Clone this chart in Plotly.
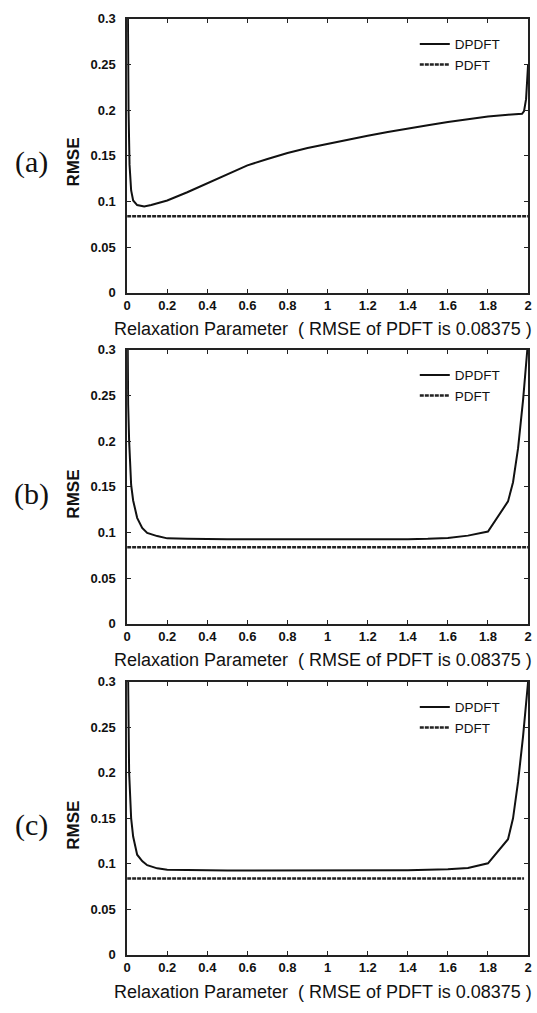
import plotly.graph_objects as go

W, H = 537, 1013

# ---- data ----
pdft_rmse = 0.08375

x_a = [0, 0.004, 0.007, 0.012, 0.02, 0.03, 0.05, 0.085, 0.12, 0.2, 0.3, 0.4, 0.5, 0.6, 0.7, 0.8,
       0.9, 1.0, 1.1, 1.2, 1.3, 1.4, 1.5, 1.6, 1.7, 1.8, 1.9, 1.95, 1.97, 1.98, 1.99, 2.0]
y_a = [0.35, 0.30, 0.20, 0.14, 0.112, 0.101, 0.096, 0.0945, 0.096, 0.101, 0.11, 0.12, 0.1300, 0.1395,
       0.1465, 0.153, 0.1585, 0.163, 0.168, 0.172, 0.176, 0.18, 0.1835, 0.187, 0.190, 0.193, 0.195,
       0.1955, 0.196, 0.199, 0.212, 0.25]

x_b = [0, 0.005, 0.01, 0.02, 0.03, 0.05, 0.075, 0.1, 0.15, 0.2, 0.3, 0.4, 0.5, 0.6, 0.7, 0.8, 0.9,
       1.0, 1.1, 1.2, 1.3, 1.4, 1.5, 1.6, 1.7, 1.8, 1.9, 1.925, 1.95, 1.975, 2.0]
y_b = [0.40, 0.24, 0.20, 0.152, 0.135, 0.116, 0.105, 0.0995, 0.096, 0.0935, 0.093, 0.0925, 0.0925,
       0.0925, 0.0925, 0.0925, 0.0925, 0.0925, 0.0925, 0.092, 0.0925, 0.0925, 0.093, 0.094, 0.0965,
       0.101, 0.134, 0.155, 0.192, 0.245, 0.31]

x_c = [0, 0.005, 0.01, 0.02, 0.03, 0.05, 0.075, 0.1, 0.15, 0.2, 0.3, 0.4, 0.5, 0.6, 0.7, 0.8, 0.9,
       1.0, 1.1, 1.2, 1.3, 1.4, 1.5, 1.6, 1.7, 1.8, 1.9, 1.925, 1.95, 1.975, 2.0]
y_c = [0.40, 0.245, 0.20, 0.15, 0.13, 0.11, 0.103, 0.0985, 0.095, 0.0935, 0.093, 0.093, 0.0925,
       0.0925, 0.0925, 0.0925, 0.0925, 0.0925, 0.093, 0.093, 0.093, 0.093, 0.0935, 0.094, 0.0955,
       0.1005, 0.127, 0.15, 0.19, 0.24, 0.30]

pdft_x = {"a": [0, 2], "b": [0, 2], "c": [0, 1.98]}

panel_labels = ["(a)", "(b)", "(c)"]
x_title = "Relaxation Parameter  ( RMSE of PDFT is 0.08375 )"
y_title = "RMSE"
x_ticks = [0, 0.2, 0.4, 0.6, 0.8, 1, 1.2, 1.4, 1.6, 1.8, 2]
y_ticks = [0, 0.05, 0.1, 0.15, 0.2, 0.25, 0.3]

# ---- layout geometry (pixels) ----
x_left, x_right = 125, 532
rows = [(12, 290), (348, 626), (685, 962)]
xtitle_y = [327, 663, 1000]
label_y = [157, 494, 830]

def px(v):
    return v / W

def py(v):
    return 1 - v / H

fig = go.Figure()
series = [("a", x_a, y_a), ("b", x_b, y_b), ("c", x_c, y_c)]
font_sans = "Liberation Sans, Arial, sans-serif"

for i, (key, xs, ys) in enumerate(series):
    sfx = "" if i == 0 else str(i + 1)
    leg = "legend" + sfx
    fig.add_trace(go.Scatter(x=xs, y=ys, mode="lines", name="DPDFT",
                             line=dict(color="#111111", width=2),
                             xaxis="x" + sfx, yaxis="y" + sfx, legend=leg))
    fig.add_trace(go.Scatter(x=pdft_x[key], y=[pdft_rmse, pdft_rmse], mode="lines", name="PDFT",
                             line=dict(color="#222222", width=2.5, dash="4px,1px"),
                             xaxis="x" + sfx, yaxis="y" + sfx, legend=leg))
    top, bot = rows[i]
    axis_common = dict(showline=True, linecolor="#222222", linewidth=1.5, mirror="ticks",
                       ticks="inside", ticklen=4, tickcolor="#222222", showgrid=False,
                       zeroline=False,
                       tickfont=dict(family=font_sans, size=13, color="#111111", weight="bold"))
    fig.layout["xaxis" + sfx] = dict(domain=[px(x_left), px(x_right)], range=[0, 2],
                                      tickvals=x_ticks, anchor="y" + sfx,
                                      ticklabelstandoff=0, **axis_common)
    fig.layout["yaxis" + sfx] = dict(domain=[py(bot), py(top)], range=[0, 0.3],
                                      tickvals=y_ticks, anchor="x" + sfx,
                                      ticklabelstandoff=7, **axis_common)
    fig.layout[leg] = dict(x=px(417), y=py(top + 10), xanchor="left", yanchor="top",
                           bgcolor="rgba(0,0,0,0)", borderwidth=0, tracegroupgap=0,
                           itemwidth=30,
                           font=dict(family=font_sans, size=13.5, color="#111111"))
    fig.add_annotation(x=px(324), y=py(xtitle_y[i]), xref="paper", yref="paper",
                       text=x_title, showarrow=False, xanchor="center", yanchor="middle",
                       font=dict(family=font_sans, size=18, color="#111111"))
    fig.add_annotation(x=px(71), y=py(label_y[i]), xref="paper", yref="paper",
                       text="<b>" + y_title + "</b>", showarrow=False, textangle=-90,
                       xanchor="center", yanchor="middle",
                       font=dict(family=font_sans, size=17, color="#111111"))
    fig.add_annotation(x=px(28), y=py(label_y[i]), xref="paper", yref="paper",
                       text=panel_labels[i], showarrow=False, xanchor="center", yanchor="middle",
                       font=dict(family="Liberation Serif, Times New Roman, serif", size=30,
                                 color="#111111"))

fig.update_layout(width=W, height=H, margin=dict(l=0, r=0, t=0, b=0),
                  paper_bgcolor="white", plot_bgcolor="white", showlegend=True)

fig.write_html("out.html")
